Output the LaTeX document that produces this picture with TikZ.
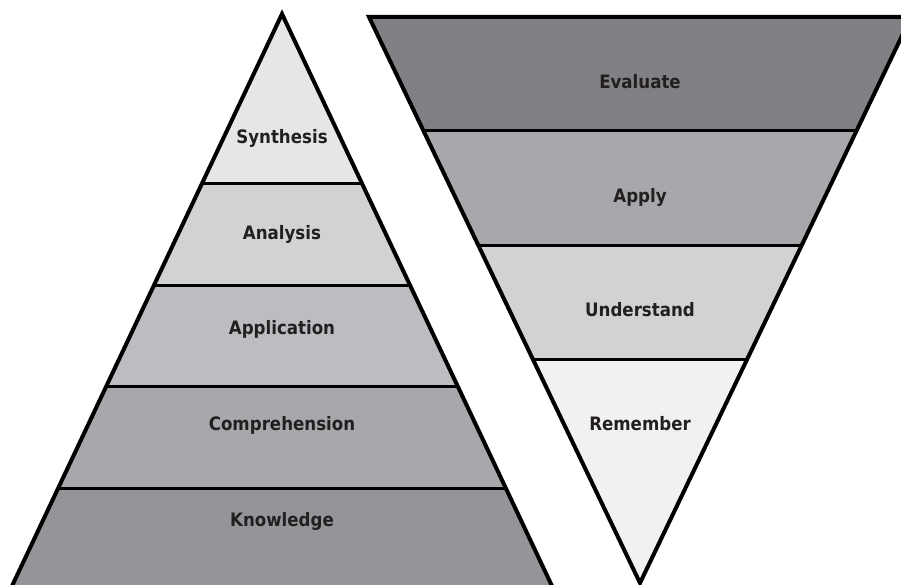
\documentclass[tikz,border=0pt]{standalone}
\usepackage{fontspec}
\setmainfont{DejaVu Sans}
\newfontfamily\lblfont{DejaVu Sans Condensed}
\definecolor{gA}{HTML}{E6E6E8}
\definecolor{gB}{HTML}{D1D2D4}
\definecolor{gC}{HTML}{BCBDC0}
\definecolor{gD}{HTML}{A7A8AB}
\definecolor{gE}{HTML}{939598}
\definecolor{gF}{HTML}{808184}
\definecolor{gG}{HTML}{F1F1F2}
\definecolor{txt}{HTML}{231F20}
\tikzset{
  outline/.style={draw=black, line width=4pt, line join=miter},
  sepline/.style={draw=black, line width=3pt},
  lbl/.style={font=\lblfont\fontsize{18.5}{21}\selectfont\bfseries, text=txt}
}
\begin{document}
\begin{tikzpicture}[x=1pt,y=-1pt]
\useasboundingbox (0,0) rectangle (901,585);
\clip (0,0) rectangle (901,585);
% left pyramid
\begin{scope}
\clip (282,14) -- (5.4,600) -- (558.6,600) -- cycle;
\fill[gA] (0,0) rectangle (901,184);
\fill[gB] (0,184) rectangle (901,285);
\fill[gC] (0,285) rectangle (901,386);
\fill[gD] (0,386) rectangle (901,488);
\fill[gE] (0,488) rectangle (901,600);
\draw[sepline] (0,184) -- (901,184);
\draw[sepline] (0,285) -- (901,285);
\draw[sepline] (0,386) -- (901,386);
\draw[sepline] (0,488) -- (901,488);
\end{scope}
\draw[outline] (282,14) -- (5.4,600) -- (558.6,600) -- cycle;
% right inverted pyramid
\begin{scope}
\clip (369,17) -- (911,17) -- (640,583) -- cycle;
\fill[gF] (0,0) rectangle (950,131);
\fill[gD] (0,131) rectangle (950,245);
\fill[gB] (0,245) rectangle (950,359);
\fill[gG] (0,359) rectangle (950,600);
\draw[sepline] (0,131) -- (950,131);
\draw[sepline] (0,245) -- (950,245);
\draw[sepline] (0,359) -- (950,359);
\end{scope}
\draw[outline] (369,17) -- (911,17) -- (640,583) -- cycle;
% labels
\node[lbl] (syn) at (282,138) {Synthesis};
\node[lbl] (ana) at (282,234) {Analysis};
\node[lbl] (app) at (282,329) {Application};
\node[lbl] (com) at (282,425) {Comprehension};
\node[lbl] (kno) at (282,521) {Knowledge};
\node[lbl] (eva) at (640,82) {Evaluate};
\node[lbl] (apy) at (640,197) {Apply};
\node[lbl] (und) at (640,310) {Understand};
\node[lbl] (rem) at (640,424) {Remember};
\end{tikzpicture}
\end{document}
